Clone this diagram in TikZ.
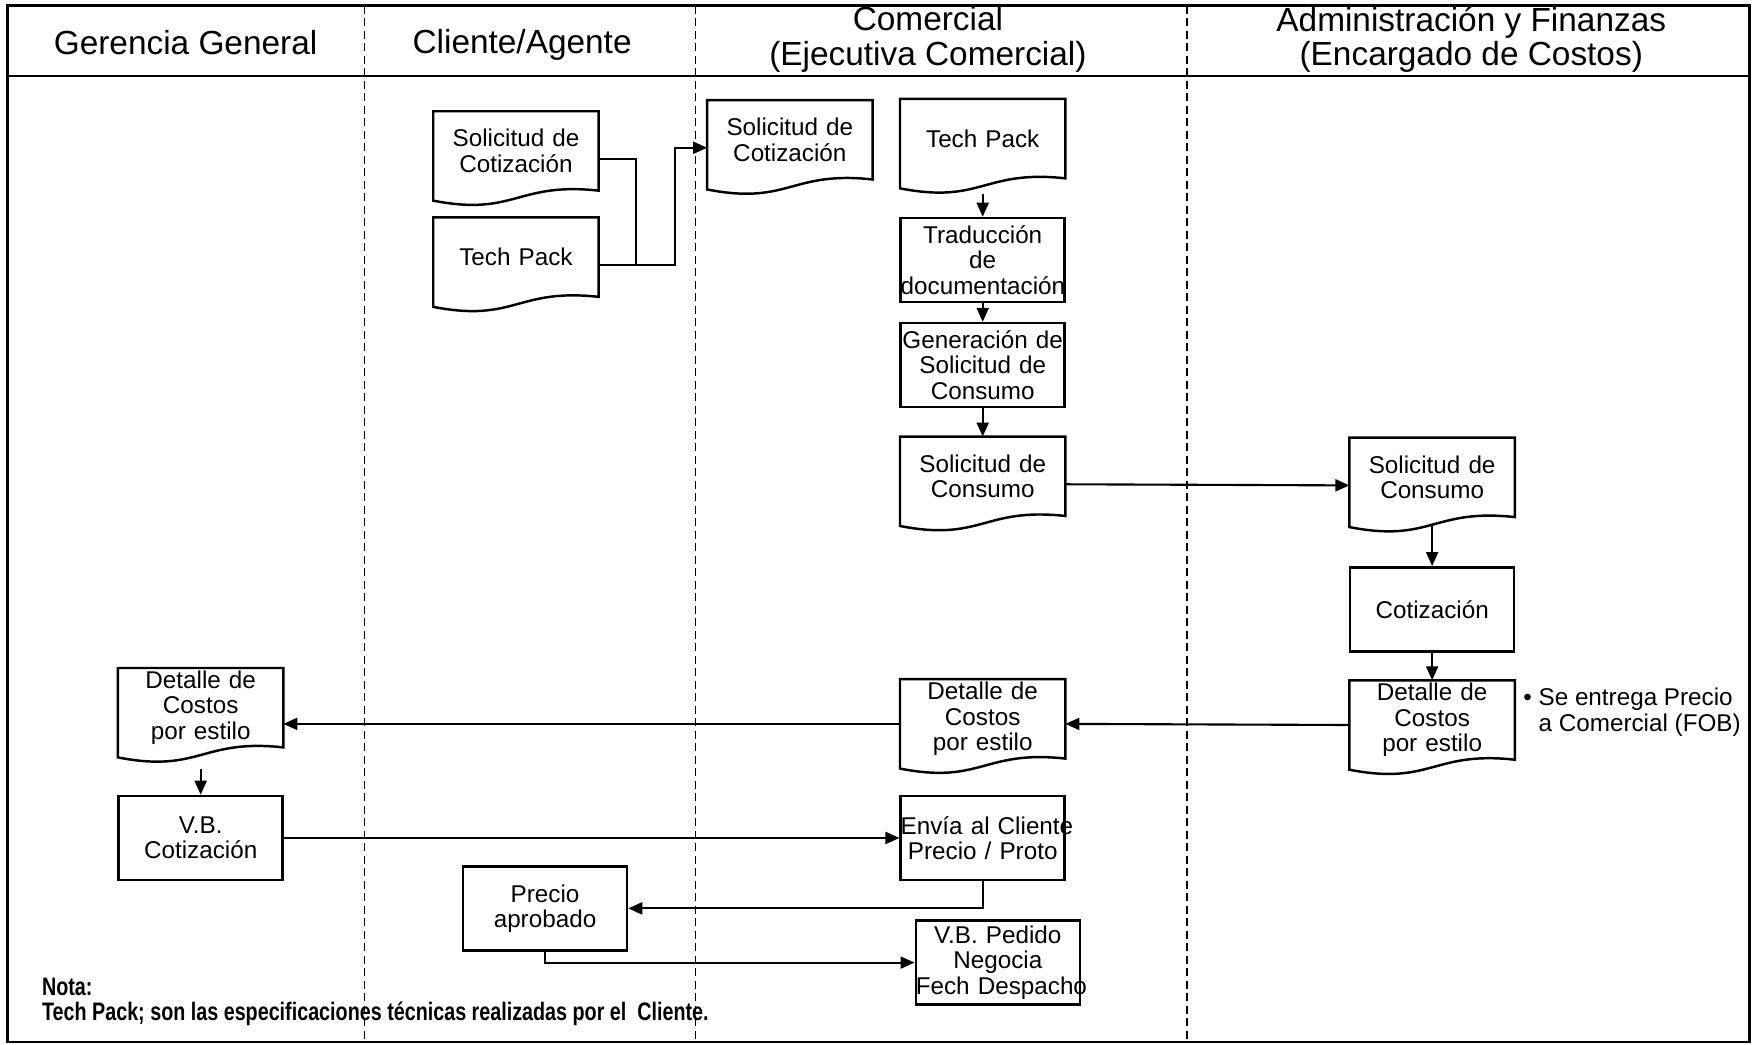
\documentclass[tikz,border=0pt]{standalone}
\usepackage{fontspec}
\setmainfont{Liberation Sans}
\newfontfamily\notafont[FakeStretch=0.78]{Liberation Sans}
\usetikzlibrary{arrows.meta}

\begin{document}
\begin{tikzpicture}[x=0.1118mm,y=-0.1118mm,font=\fontsize{6.9}{7.2}\selectfont,
  lane/.style={font=\fontsize{9.5}{9.9}\selectfont,align=center},
  proc/.style={draw,line width=0.7pt,minimum width=16.4mm,minimum height=8.4mm,
    text width=16.4mm,inner sep=0pt,align=center},
  doc/.style={minimum width=16.4mm,minimum height=7.8mm,text width=16.4mm,
    inner sep=0pt,align=center,
    append after command={\pgfextra{
      \draw[line width=0.7pt] (\tikzlastnode.north west) -- (\tikzlastnode.north east)
        -- (\tikzlastnode.south east)
        .. controls ([xshift=-8.2mm,yshift=0.9mm]\tikzlastnode.south east)
        and ([xshift=8.2mm,yshift=-2.6mm]\tikzlastnode.south west)
        .. ([yshift=-1mm]\tikzlastnode.south west) -- cycle;}}},
  flow/.style={line width=0.6pt},
  arr/.style={flow,-{Triangle[length=1.4mm,width=1.2mm]}},
  sep/.style={line width=0.5pt,dash pattern=on 0.8mm off 0.45mm}]
 \useasboundingbox (0,0) rectangle (1568,934);
 \draw[line width=0.8pt] (7,5) rectangle (1565,932);
 \draw[line width=0.8pt] (7,68) -- (1565,68);
 \foreach \x in {326,622,1062}
   {\draw[sep] (\x,5) -- (\x,932);}
 \node[lane] (hger) at (166,38) {Gerencia General};
 \node[lane] (hcli) at (467,40) {Cliente/Agente};
 \node[lane] (hcom) at (830,35.5) {Comercial\\(Ejecutiva Comercial)};
 \node[lane] (hadm) at (1316,35.5) {Administración y Finanzas\\(Encargado de Costos)};
 \node[doc] (solcotC) at (461.5,135) {Solicitud de\\Cotización};
 \node[doc] (techC) at (461.5,230) {Tech Pack};
 \node[doc] (solcotE) at (706.5,125) {Solicitud de\\Cotización};
 \node[doc] (techE) at (879,124) {Tech Pack};
 \node[proc] (trad) at (879,232.5) {Traducción\\de\\documentación};
 \node[proc] (gensol) at (879,326.5) {Generación de\\Solicitud de\\Consumo};
 \node[doc] (solconsE) at (879,426) {Solicitud de\\Consumo};
 \node[doc] (detE) at (879,643) {Detalle de\\Costos\\por estilo};
 \node[proc] (envia) at (879,749.5) {\mbox{Envía al Cliente}\\Precio / Proto};
 \node[proc] (vbped) at (892.5,861) {V.B. Pedido\\Negocia\\\mbox{Fech Despacho}};
 \node[proc] (precio) at (487.5,812.5) {Precio\\aprobado};
 \node[doc] (detG) at (179.5,633) {Detalle de\\Costos\\por estilo};
 \node[proc] (vbcot) at (179.5,749.5) {V.B.\\Cotización};
 \node[doc] (solconsA) at (1281,427) {Solicitud de\\Consumo};
 \node[proc] (cotiz) at (1281,545) {Cotización};
 \node[doc] (detA) at (1281,644) {Detalle de\\Costos\\por estilo};
 \node[anchor=west,align=left,inner sep=0pt] (fob) at (1362,637)
   {\textbullet\ Se entrega Precio\\\phantom{\textbullet}\ a Comercial (FOB)};
 \node[anchor=west,align=left,inner sep=0pt,
   font=\notafont\bfseries\fontsize{7.2}{7.0}\selectfont] (nota) at (37,896)
   {Nota:\\Tech Pack; son las especificaciones técnicas realizadas por el\ \ Cliente.};
 \draw[flow] ([yshift=-0.8mm]solcotC.east) -| ([xshift=3.7mm,yshift=-0.8mm]techC.east);
 \draw[arr] ([yshift=-0.8mm]techC.east) -- ++(7.6mm,0) |- ([yshift=-0.8mm]solcotE.west);
 \draw[arr] ([yshift=-1.6mm]techE.south) -- (trad);
 \draw[arr] (trad) -- (gensol);
 \draw[arr] (gensol) -- (solconsE);
 \draw[arr] ([yshift=-0.8mm]solconsE.east) -- ([yshift=-0.8mm]solconsA.west);
 \draw[arr] ([yshift=-0.76mm]solconsA.south) -- (cotiz);
 \draw[arr] (cotiz) -- (detA);
 \draw[arr] ([yshift=-0.5mm]detA.west) -- ([yshift=-0.5mm]detE.east);
 \draw[arr] ([yshift=-0.5mm]detE.west) coordinate (t) -- (t -| detG.east);
 \draw[arr] ([yshift=-2.2mm]detG.south) -- (vbcot);
 \draw[arr] (vbcot) -- (envia);
 \draw[arr] (envia) |- (precio);
 \draw[arr] (precio) |- (vbped);
\end{tikzpicture}
\end{document}
